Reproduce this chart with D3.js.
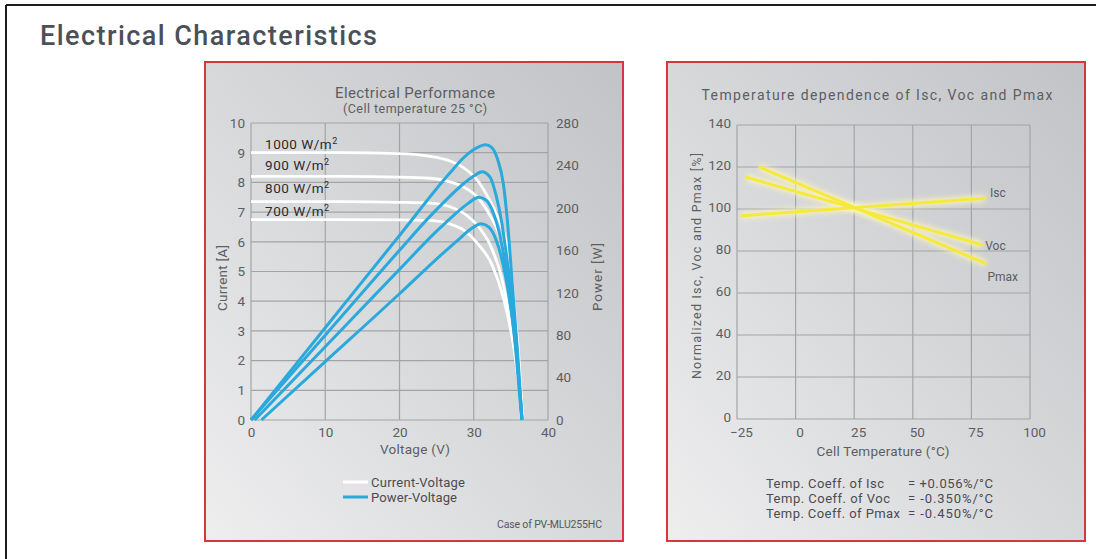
<!DOCTYPE html>
<html><head><meta charset="utf-8">
<script src="https://cdn.jsdelivr.net/npm/d3@7"></script>
<style>
body{margin:0;background:#fff;}
svg{display:block;font-family:"Roboto","Open Sans",sans-serif;}
</style></head><body>
<svg id="c" width="1096" height="559"></svg>
<script>
// ---------- data ----------
const voltageTicks = [0, 10, 20, 30, 40];
const currentTicks = [0, 1, 2, 3, 4, 5, 6, 7, 8, 9, 10];
const powerTicks = [0, 40, 80, 120, 160, 200, 240, 280];
const irradianceLabels = ["1000", "900", "800", "700"];
const irradianceLabelCurrents = [9.09, 8.37, 7.61, 6.83];

// current-voltage curves [V, A]
const iv1000 = [[0,9.0],[12,9.0],[20,8.97],[24.1,8.88],[26.8,8.72],[28.6,8.5],[30.4,8.1],[31.7,7.6],[33.1,6.9],[34.3,6.1],[34.9,5.4],[35.3,4.3],[35.7,3.2],[36.0,2.4],[36.3,1.2],[36.6,0]];
const iv900  = [[0,8.2],[12,8.2],[20,8.18],[24.1,8.14],[26.8,8.02],[28.6,7.85],[30.7,7.45],[32.4,6.8],[33.5,6.2],[34.4,5.4],[35.2,3.8],[35.7,2.6],[36.1,1.5],[36.4,0.6],[36.6,0]];
const iv800  = [[0,7.35],[12,7.35],[20,7.33],[24.1,7.3],[26.8,7.18],[29.0,6.9],[30.5,6.55],[32.2,5.9],[33.8,4.75],[34.9,3.3],[35.8,1.7],[36.3,0.7],[36.6,0]];
const iv700  = [[0,6.75],[12,6.75],[20,6.74],[24.1,6.72],[26.8,6.6],[28.6,6.4],[30.5,5.95],[32.5,5.2],[34.0,4.1],[35.0,3.0],[35.8,1.9],[36.3,1.0],[36.6,0]];

// power-voltage curves [V, W]
const pv1000 = [[0,0],[10,87],[20,174],[26.8,233],[28.6,247],[29.9,254.5],[30.8,258],[31.6,259.5],[32.4,257],[33.2,246],[34.0,222],[34.5,190],[35.3,118],[36.0,54],[36.5,0]];
const pv900  = [[0,0],[10,80],[20,160],[24.1,192],[26.5,209],[28.5,222],[30,230],[31.1,234],[32.2,229],[33.0,212],[33.8,185],[34.5,150],[35.6,85],[36.2,25],[36.5,0]];
const pv800  = [[0.5,0],[10,69],[20,142],[25,178],[27.3,193],[29.2,204],[30.7,210],[31.7,207],[32.6,196],[33.5,175],[34.5,135],[35.6,70],[36.2,22],[36.5,0]];
const pv700  = [[1.4,0],[10,55],[20,119],[25.5,155],[28.1,171],[29.6,180],[31.0,185],[32.0,182],[33,170],[34,145],[35,105],[35.8,60],[36.3,20],[36.5,0]];

const legendLabels = ["Current-Voltage", "Power-Voltage"];

// temperature chart
const tempTicks = [-25, 0, 25, 50, 75, 100];
const normTicks = [0, 20, 40, 60, 80, 100, 120, 140];
const iscLine  = [[-23.0, 96.8], [80.8, 105.1]];
const vocLine  = [[-20.9, 115.1], [79.6, 82.9]];
const pmaxLine = [[-15.2, 119.9], [81.0, 74.1]];
const seriesNames = ["Isc", "Voc", "Pmax"];
const coeffNames = ["Temp. Coeff. of Isc", "Temp. Coeff. of Voc", "Temp. Coeff. of Pmax"];
const coeffValues = ["= +0.056%/°C", "= -0.350%/°C", "= -0.450%/°C"];

// ---------- drawing ----------
const svg = d3.select("#c");
const defs = svg.append("defs");

const grad = defs.append("linearGradient").attr("id","bg").attr("x1","1").attr("y1","0").attr("x2","0").attr("y2","1");
grad.append("stop").attr("offset","0").attr("stop-color","#c2c3c6");
grad.append("stop").attr("offset","0.55").attr("stop-color","#d9dadc");
grad.append("stop").attr("offset","1").attr("stop-color","#eeeeef");

const glow = defs.append("filter").attr("id","glow").attr("x","-20%").attr("y","-50%").attr("width","140%").attr("height","200%");
glow.append("feGaussianBlur").attr("stdDeviation", 2.5);

// page frame
svg.append("rect").attr("width",1096).attr("height",559).attr("fill","#fff");
svg.append("line").attr("x1",6).attr("x2",1096).attr("y1",5).attr("y2",5).attr("stroke","#1d1d1d").attr("stroke-width",2);
svg.append("line").attr("x1",6).attr("x2",6).attr("y1",5).attr("y2",559).attr("stroke","#1d1d1d").attr("stroke-width",2);

svg.append("text").attr("x",40).attr("y",45).attr("font-size",27).attr("font-weight",500)
  .attr("fill","#4a5058").attr("textLength",337).attr("lengthAdjust","spacing")
  .text("Electrical Characteristics");

// panels
function panel(x, y, w, h) {
  svg.append("rect").attr("x",x).attr("y",y).attr("width",w).attr("height",h)
    .attr("fill","url(#bg)").attr("stroke","#d8363f").attr("stroke-width",2);
}
panel(205, 62, 418, 479);
panel(667, 62, 418, 479);

const gridColor = "#a3a4a6";
const labelColor = "#5c5e61";

function txt(g, x, y, s, size, opts) {
  const t = g.append("text").attr("x", x).attr("y", y).attr("font-size", size)
    .attr("fill", (opts && opts.fill) || labelColor).text(s);
  if (opts && opts.anchor) t.attr("text-anchor", opts.anchor);
  if (opts && opts.len) t.attr("textLength", opts.len).attr("lengthAdjust", "spacing");
  if (opts && opts.rot) t.attr("transform", `rotate(-90,${x},${y})`);
  return t;
}

// ---------- left chart ----------
const x1 = d3.scaleLinear().domain([0, 40]).range([251, 548]);
const yI = d3.scaleLinear().domain([0, 10]).range([420, 123]);
const yP = d3.scaleLinear().domain([0, 280]).range([420, 123]);

const g1 = svg.append("g");
g1.append("g").selectAll("line").data(currentTicks).join("line")
  .attr("x1", x1(0)).attr("x2", x1(40)).attr("y1", d=>yI(d)).attr("y2", d=>yI(d))
  .attr("stroke", gridColor).attr("stroke-width", 1.2);
g1.append("g").selectAll("line").data(voltageTicks).join("line")
  .attr("x1", d=>x1(d)).attr("x2", d=>x1(d)).attr("y1", yI(0)).attr("y2", yI(10))
  .attr("stroke", gridColor).attr("stroke-width", 1.2);

function styleAxis(sel) {
  sel.select(".domain").remove();
  sel.selectAll("line").remove();
  sel.selectAll("text").attr("fill", labelColor).attr("font-size", 13.5).attr("font-family", "Roboto, sans-serif");
}
g1.append("g").attr("transform", `translate(${x1(0)-1},0)`)
  .call(d3.axisLeft(yI).tickValues(currentTicks).tickSize(0).tickPadding(5).tickFormat(d3.format("d")))
  .call(styleAxis);
g1.append("g").attr("transform", `translate(${x1(40)},0)`)
  .call(d3.axisRight(yP).tickValues(powerTicks).tickSize(0).tickPadding(8).tickFormat(d3.format("d")))
  .call(styleAxis);
g1.append("g").attr("transform", `translate(0,${yI(0)+4})`)
  .call(d3.axisBottom(x1).tickValues(voltageTicks).tickSize(0).tickPadding(3).tickFormat(d3.format("d")))
  .call(styleAxis);

const ivLine = d3.line().x(d=>x1(d[0])).y(d=>yI(d[1])).curve(d3.curveMonotoneX);
const pvLine = d3.line().x(d=>x1(d[0])).y(d=>yP(d[1])).curve(d3.curveMonotoneX);
[iv1000, iv900, iv800, iv700].forEach(d => {
  g1.append("path").attr("d", ivLine(d)).attr("fill","none").attr("stroke","#ffffff").attr("stroke-width",2.8);
});
[pv1000, pv900, pv800, pv700].forEach(d => {
  g1.append("path").attr("d", pvLine(d)).attr("fill","none").attr("stroke","#2aa9dc").attr("stroke-width",3)
    .attr("stroke-linejoin","round");
});

irradianceLabels.forEach((lab, i) => {
  const t = g1.append("text").attr("x", x1(1.9)).attr("y", yI(irradianceLabelCurrents[i]) - 1)
    .attr("font-size", 13.5).attr("fill", "#2b2b2b").attr("letter-spacing", 0.5);
  t.append("tspan").text(lab + "  W/m");
  t.append("tspan").attr("dy", -5).attr("font-size", 9).text("2");
});

txt(g1, 415, 98, "Electrical  Performance", 15, {anchor: "middle", len: 160});
txt(g1, 415, 113, "(Cell temperature 25 °C)", 12.5, {anchor: "middle", len: 144});
txt(g1, 415, 454, "Voltage  (V)", 13.5, {anchor: "middle", len: 70});
txt(g1, 227, 278, "Current  [A]", 13.5, {anchor: "middle", rot: true, len: 66});
txt(g1, 602, 277, "Power  [W]", 13.5, {anchor: "middle", rot: true, len: 68});

const legendColors = ["#ffffff", "#2aa9dc"];
legendLabels.forEach((lab, i) => {
  const yy = 482 + i * 15;
  g1.append("line").attr("x1", 343).attr("x2", 368).attr("y1", yy).attr("y2", yy)
    .attr("stroke", legendColors[i]).attr("stroke-width", 3);
  txt(g1, 371, yy + 5, lab, 13, {fill: "#4a4c50", len: i === 0 ? 94 : 86});
});
txt(g1, 602, 528, "Case of PV-MLU255HC", 10.5, {anchor: "end", fill: "#55575a", len: 105});

// ---------- right chart ----------
const x2 = d3.scaleLinear().domain([-25, 100]).range([737, 1030]);
const y2 = d3.scaleLinear().domain([0, 140]).range([419, 125]);
const g2 = svg.append("g");

g2.append("g").selectAll("line").data(normTicks).join("line")
  .attr("x1", x2(-25)).attr("x2", x2(100)).attr("y1", d=>y2(d)).attr("y2", d=>y2(d))
  .attr("stroke", gridColor).attr("stroke-width", 1.2);
g2.append("g").selectAll("line").data(tempTicks).join("line")
  .attr("x1", d=>x2(d)).attr("x2", d=>x2(d)).attr("y1", y2(0)).attr("y2", y2(140))
  .attr("stroke", gridColor).attr("stroke-width", 1.2);

g2.append("g").attr("transform", `translate(${x2(-25)-2},-2)`)
  .call(d3.axisLeft(y2).tickValues(normTicks).tickSize(0).tickPadding(4).tickFormat(d3.format("d")))
  .call(styleAxis);
g2.append("g").attr("transform", `translate(4,${y2(0)+5})`)
  .call(d3.axisBottom(x2).tickValues(tempTicks).tickSize(0).tickPadding(3).tickFormat(d3.format("d")))
  .call(styleAxis);

const tLine = d3.line().x(d=>x2(d[0])).y(d=>y2(d[1]));
[iscLine, vocLine, pmaxLine].forEach(d => {
  g2.append("path").attr("d", tLine(d)).attr("fill","none").attr("stroke","#fbf6b8").attr("stroke-width",7)
    .attr("opacity",0.8).attr("filter","url(#glow)");
});
[iscLine, vocLine, pmaxLine].forEach(d => {
  g2.append("path").attr("d", tLine(d)).attr("fill","none").attr("stroke","#f6e93c").attr("stroke-width",3)
    .attr("stroke-linecap","round");
});

const seriesLabelPos = [[iscLine, 5, -1], [vocLine, 3, 5], [pmaxLine, 2, 18]];
seriesNames.forEach((n, i) => {
  const [ln, dx, dy] = seriesLabelPos[i];
  const end = ln[1];
  txt(g2, x2(end[0]) + dx, y2(end[1]) + dy, n, 12);
});

txt(g2, 877, 100, "Temperature dependence of Isc, Voc and Pmax", 14, {anchor: "middle", len: 351});
txt(g2, 883, 456, "Cell Temperature (°C)", 13.5, {anchor: "middle", len: 133});
txt(g2, 701, 266, "Normalized Isc, Voc and Pmax [%]", 12.5, {anchor: "middle", rot: true, len: 226});

coeffNames.forEach((n, i) => {
  const yy = 488 + i * 15;
  txt(g2, 766, yy, n, 13, {fill: "#4a4c50", len: i === 2 ? 134 : (i === 1 ? 124 : 118)});
  txt(g2, 908, yy, coeffValues[i], 13, {fill: "#4a4c50", len: 85});
});
</script>
</body></html>
